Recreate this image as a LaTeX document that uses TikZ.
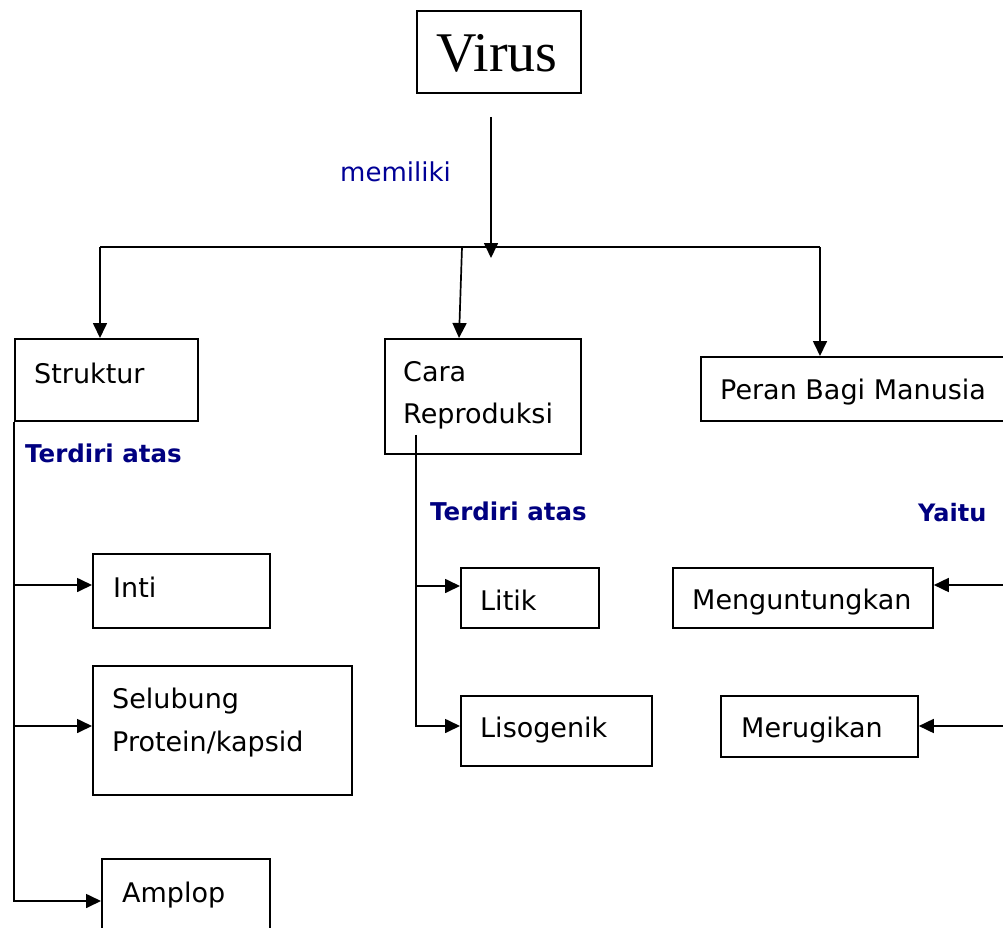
\documentclass[tikz,border=0pt]{standalone}
\usepackage{fontspec}
\usetikzlibrary{arrows.meta,calc}
\newfontfamily\vfont{DejaVu Sans}
\newfontfamily\tfont{Liberation Serif}
\definecolor{navyA}{RGB}{0,0,128}
\definecolor{navyB}{RGB}{0,0,150}
\tikzset{
  box/.style={draw, line width=1.8pt, rectangle, inner sep=0pt, anchor=north west},
  txt/.style={anchor=base west, inner sep=0pt, font=\vfont\fontsize{27}{32}\selectfont},
  lbl/.style={anchor=base west, inner sep=0pt, text=navyA, font=\vfont\bfseries\fontsize{24.5}{30}\selectfont},
  arr/.style={line width=1.7pt, -{Triangle[length=15pt,width=14pt]}},
  ln/.style={line width=1.7pt}
}
\begin{document}
\begin{tikzpicture}[x=1pt,y=-1pt]
\useasboundingbox (0,0) rectangle (1003,928);
\clip (0,0) rectangle (1003,928);
% boxes
\node[box, minimum width=164pt, minimum height=82pt] (virus) at (416,10) {};
\node[anchor=base, inner sep=0pt, font=\tfont\fontsize{56}{60}\selectfont] (virusT) at (497,72) {Virus};
\node[box, minimum width=183pt, minimum height=82pt] (struktur) at (14,338) {};
\node[txt] (strukturT) at (34,383) {Struktur};
\node[box, minimum width=196pt, minimum height=115pt] (cara) at (384,338) {};
\node[txt] (caraT1) at (403,381) {Cara};
\node[txt] (caraT2) at (403,423) {Reproduksi};
\node[box, minimum width=304pt, minimum height=64pt] (peran) at (700,356) {};
\node[txt] (peranT) at (720,399) {Peran Bagi Manusia};
\node[box, minimum width=177pt, minimum height=74pt] (inti) at (92,553) {};
\node[txt] (intiT) at (113,597) {Inti};
\node[box, minimum width=259pt, minimum height=129pt] (selubung) at (92,665) {};
\node[txt] (selubungT1) at (112,708) {Selubung};
\node[txt] (selubungT2) at (112,751) {Protein/kapsid};
\node[box, minimum width=168pt, minimum height=82pt] (amplop) at (101,858) {};
\node[txt] (amplopT) at (122,902) {Amplop};
\node[box, minimum width=138pt, minimum height=60pt] (litik) at (460,567) {};
\node[txt] (litikT) at (480,610) {Litik};
\node[box, minimum width=191pt, minimum height=70pt] (lisogenik) at (460,695) {};
\node[txt] (lisogenikT) at (480,737) {Lisogenik};
\node[box, minimum width=260pt, minimum height=60pt] (mengun) at (672,567) {};
\node[txt] (mengunT) at (692,609) {Menguntungkan};
\node[box, minimum width=197pt, minimum height=61pt] (merugi) at (720,695) {};
\node[txt] (merugiT) at (741,737) {Merugikan};
% labels
\node[anchor=base west, inner sep=0pt, text=navyB, font=\vfont\fontsize{26}{30}\selectfont] (memiliki) at (340,182) {memiliki};
\node[lbl] (terdiri1) at (25,462) {Terdiri atas};
\node[lbl] (terdiri2) at (430,520) {Terdiri atas};
\node[lbl, font=\vfont\bfseries\fontsize{24}{30}\selectfont] (yaitu) at (918,521) {Yaitu};
% main connectors
\coordinate (vtop) at (491,117);
\coordinate (vend) at (491,258);
\coordinate (L) at (100,247);
\coordinate (R) at (820,247);
\coordinate (M) at (462,247);
\draw[arr] (vtop) -- (vend);
\draw[ln] (L) -- (R);
\draw[arr] (L) -- (L |- struktur.north);
\draw[arr] (R) -- (R |- peran.north);
\draw[arr] (M) -- ($(cara.north west)+(75,0)$);
% left trunk
\draw[arr] (struktur.south west) |- ($(inti.north west)+(0,32)$);
\draw[arr] (struktur.south west) |- ($(selubung.north west)+(0,61)$);
\draw[arr] (struktur.south west) |- ($(amplop.north west)+(0,43)$);
% middle trunk
\coordinate (ctr) at ($(cara.south west)+(32,-20)$);
\draw[arr] (ctr) |- ($(litik.north west)+(0,19)$);
\draw[arr] (ctr) |- ($(lisogenik.north west)+(0,31)$);
% right trunk
\coordinate (rtr) at ($(peran.south east)+(-2,0)$);
\draw[arr] (rtr) |- ($(mengun.north east)+(0,18)$);
\draw[arr] (rtr) |- ($(merugi.north east)+(0,31)$);
\end{tikzpicture}
\end{document}
